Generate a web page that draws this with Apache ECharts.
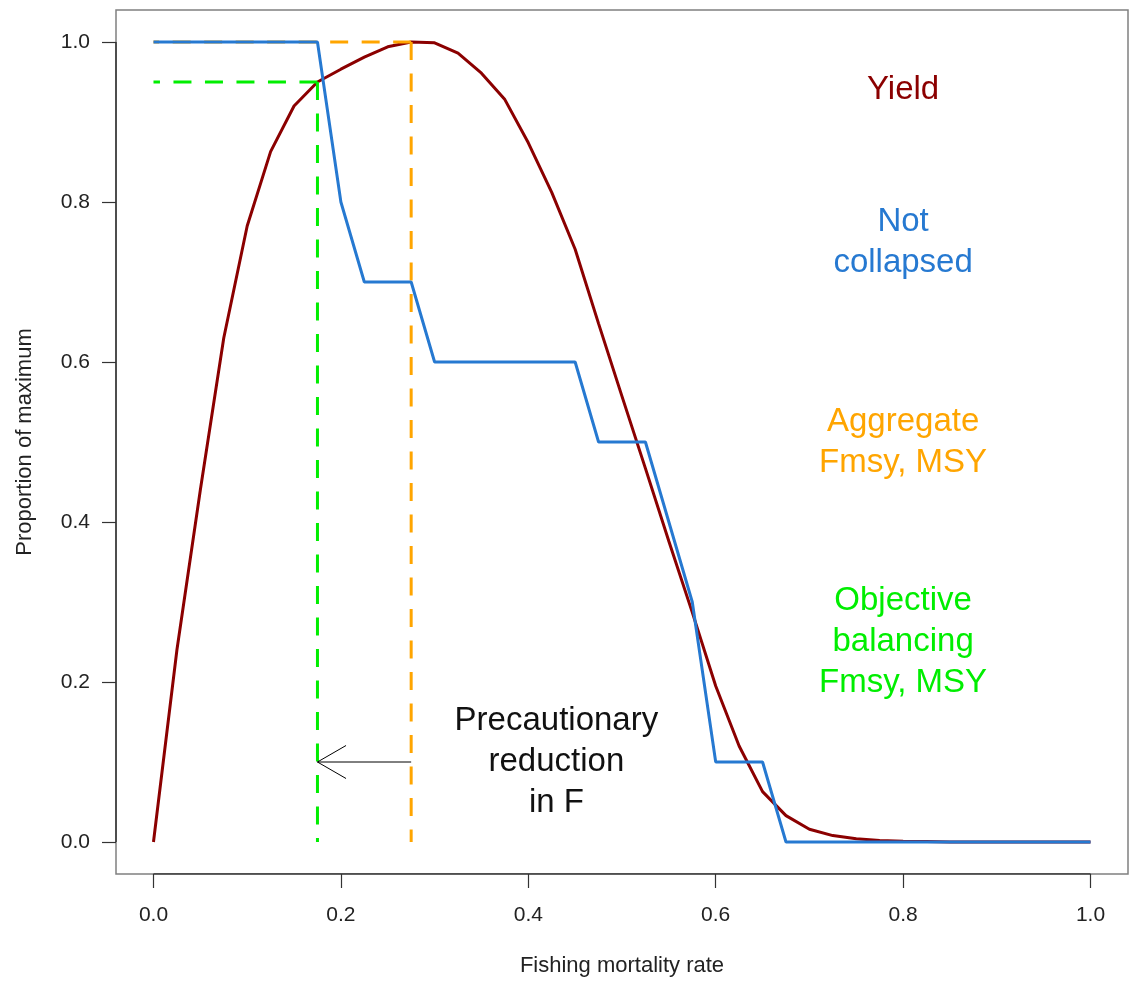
<!DOCTYPE html>
<html>
<head>
<meta charset="utf-8">
<script src="https://cdn.jsdelivr.net/npm/echarts@6/dist/echarts.min.js"></script>
<style>
  html, body { margin: 0; padding: 0; background: #ffffff; }
  #chart { width: 1130px; height: 982px; }
</style>
</head>
<body>
<div id="chart"></div>
<script>
// Fishing mortality grid (F) and the two response curves, as proportion of maximum
const fishingF = [
  0.000, 0.025, 0.050, 0.075, 0.100, 0.125, 0.150, 0.175, 0.200, 0.225,
  0.250, 0.275, 0.300, 0.325, 0.350, 0.375, 0.400, 0.425, 0.450, 0.475,
  0.500, 0.525, 0.550, 0.575, 0.600, 0.625, 0.650, 0.675, 0.700, 0.725,
  0.750, 0.775, 0.800, 0.825, 0.850, 0.875, 0.900, 0.925, 0.950, 0.975,
  1.000
];
const yieldProp = [
  0.000, 0.240, 0.440, 0.630, 0.770, 0.863, 0.920, 0.950, 0.966, 0.981,
  0.994, 1.000, 0.999, 0.986, 0.961, 0.928, 0.874, 0.812, 0.741, 0.648,
  0.557, 0.467, 0.376, 0.287, 0.195, 0.120, 0.063, 0.033, 0.016, 0.008,
  0.004, 0.002, 0.001, 0.0005, 0.000, 0.000, 0.000, 0.000, 0.000, 0.000,
  0.000
];
const notCollapsedProp = [
  1.0, 1.0, 1.0, 1.0, 1.0, 1.0, 1.0, 1.0, 0.8, 0.7,
  0.7, 0.7, 0.6, 0.6, 0.6, 0.6, 0.6, 0.6, 0.6, 0.5,
  0.5, 0.5, 0.4, 0.3, 0.1, 0.1, 0.1, 0.0, 0.0, 0.0,
  0.0, 0.0, 0.0, 0.0, 0.0, 0.0, 0.0, 0.0, 0.0, 0.0,
  0.0
];

// Axis ticks
const tickValues = [0.0, 0.2, 0.4, 0.6, 0.8, 1.0];

// Reference points: aggregate Fmsy/MSY and the objective-balancing Fmsy/yield
const aggregateFmsy = 0.275;
const aggregateMsy = 1.0;
const balancedFmsy = 0.175;
const balancedYield = 0.95;

// Precautionary arrow: from F, at level, to F
const arrowFrom = 0.275;
const arrowTo = 0.175;
const arrowLevel = 0.1;

// Annotations (text and anchor in data units)
const noteText = ['Yield', 'Not\ncollapsed', 'Aggregate\nFmsy, MSY', 'Objective\nbalancing\nFmsy, MSY', 'Precautionary\nreduction\nin F'];
const noteF = [0.80, 0.80, 0.80, 0.80, 0.43];
const noteLevel = [0.94, 0.75, 0.50, 0.25, 0.10];

// ---- styles ----
const COL = {
  yield: '#8B0000',
  notCollapsed: '#2679D1',
  aggregate: '#FFA500',
  balanced: '#00EE00',
  ink: '#000000'
};
const noteColors = [COL.yield, COL.notCollapsed, COL.aggregate, COL.balanced, '#111111'];
const FONT = '"Liberation Sans", Arial, Helvetica, sans-serif';
const DASH = [18, 13.5];

const pairs = (xs, ys) => xs.map((x, i) => [x, ys[i]]);

const chart = echarts.init(document.getElementById('chart'), null, { renderer: 'canvas' });

function dashed(name, pts, color, z) {
  return {
    name, type: 'line', data: pts, showSymbol: false, symbol: 'none', silent: true, z,
    lineStyle: { color, width: 3, type: DASH }, animation: false
  };
}

const option = {
  animation: false,
  backgroundColor: '#ffffff',
  grid: {
    left: 116, right: 2, top: 10, bottom: 106,
    show: true, borderColor: '#808080', borderWidth: 1.5, backgroundColor: 'transparent'
  },
  xAxis: {
    type: 'value', min: -0.04, max: 1.04,
    axisLine: { show: false, onZero: false },
    splitLine: { show: false },
    axisTick: { show: true, inside: false, length: 14, customValues: tickValues, lineStyle: { color: '#333', width: 1.2 } },
    axisLabel: {
      customValues: tickValues, formatter: v => v.toFixed(1),
      fontFamily: FONT, fontSize: 21, color: '#222', margin: 31
    },
    name: 'Fishing mortality rate', nameLocation: 'middle', nameGap: 81,
    nameTextStyle: { fontFamily: FONT, fontSize: 22, color: '#222' }
  },
  yAxis: {
    type: 'value', min: -0.04, max: 1.04,
    axisLine: { show: false, onZero: false },
    splitLine: { show: false },
    axisTick: { show: true, inside: false, length: 14, customValues: tickValues, lineStyle: { color: '#333', width: 1.2 } },
    axisLabel: {
      customValues: tickValues, formatter: v => v.toFixed(1),
      fontFamily: FONT, fontSize: 21, color: '#222', margin: 26
    },
    name: 'Proportion of maximum', nameLocation: 'middle', nameGap: 80,
    nameTextStyle: { fontFamily: FONT, fontSize: 22, color: '#222' }
  },
  series: [
    // axis lines spanning the tick range, on the frame
    {
      name: 'x axis line', type: 'line', data: [[tickValues[0], -0.04], [tickValues[tickValues.length - 1], -0.04]],
      symbol: 'none', silent: true, z: 1, lineStyle: { color: '#333', width: 1.5 }
    },
    {
      name: 'y axis line', type: 'line', data: [[-0.04, tickValues[0]], [-0.04, tickValues[tickValues.length - 1]]],
      symbol: 'none', silent: true, z: 1, lineStyle: { color: '#333', width: 1.5 }
    },
    {
      name: 'Yield', type: 'line', data: pairs(fishingF, yieldProp),
      symbol: 'none', silent: true, z: 2, lineStyle: { color: COL.yield, width: 3 }
    },
    dashed('Aggregate MSY', [[aggregateFmsy, aggregateMsy], [0, aggregateMsy]], COL.aggregate, 3),
    dashed('Aggregate Fmsy', [[aggregateFmsy, aggregateMsy], [aggregateFmsy, 0]], COL.aggregate, 3),
    dashed('Balanced yield', [[balancedFmsy, balancedYield], [0, balancedYield]], COL.balanced, 3),
    dashed('Balanced Fmsy', [[balancedFmsy, balancedYield], [balancedFmsy, 0]], COL.balanced, 3),
    {
      name: 'Not collapsed', type: 'line', data: pairs(fishingF, notCollapsedProp),
      symbol: 'none', silent: true, z: 4, lineStyle: { color: COL.notCollapsed, width: 3 }
    },
    {
      name: 'Precautionary reduction', type: 'custom', silent: true, z: 5,
      data: [[arrowFrom, arrowLevel, arrowTo]],
      encode: { x: [0, 2], y: 1 },
      renderItem: function (params, api) {
        const a = api.coord([api.value(0), api.value(1)]);
        const b = api.coord([api.value(2), api.value(1)]);
        const ang = Math.atan2(b[1] - a[1], b[0] - a[0]);
        const L = 33, h = Math.PI / 6;
        const p1 = [b[0] - L * Math.cos(ang - h), b[1] - L * Math.sin(ang - h)];
        const p2 = [b[0] - L * Math.cos(ang + h), b[1] - L * Math.sin(ang + h)];
        return {
          type: 'group',
          children: [
            { type: 'line', shape: { x1: a[0], y1: a[1], x2: b[0], y2: b[1] }, style: { stroke: COL.ink, lineWidth: 1 } },
            { type: 'polyline', shape: { points: [p1, b, p2] }, style: { stroke: COL.ink, lineWidth: 1, fill: null } }
          ]
        };
      }
    },
    {
      name: 'Notes', type: 'custom', silent: true, z: 6,
      data: noteText.map((t, i) => [noteF[i], noteLevel[i], i]),
      renderItem: function (params, api) {
        const p = api.coord([api.value(0), api.value(1)]);
        const i = api.value(2);
        return {
          type: 'text', x: p[0], y: p[1],
          style: {
            text: noteText[i], fill: noteColors[i],
            font: '33px ' + FONT, align: 'center', verticalAlign: 'middle', lineHeight: 41
          }
        };
      }
    }
  ]
};

chart.setOption(option);
</script>
</body>
</html>
